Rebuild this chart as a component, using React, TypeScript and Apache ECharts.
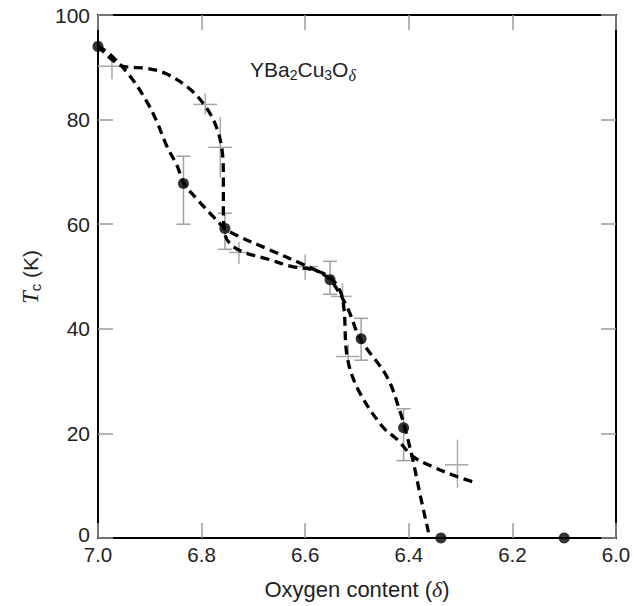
import React, { useEffect, useRef } from "react";
import * as echarts from "echarts";

// Black dots (measured Tc)
const dotX = [7.0, 6.835, 6.755, 6.552, 6.492, 6.41, 6.338, 6.1];
const dotY = [94, 67.8, 59.2, 49.4, 38.1, 21.1, 0, 0];

// Error bars on black dots
const barX = [6.835, 6.755, 6.552, 6.492, 6.41];
const barLow = [60, 55.2, 46.6, 34, 14.8];
const barHigh = [73, 62.1, 52.9, 42, 24.7];

// Gray crosses
const crossX = [6.973, 6.793, 6.764, 6.728, 6.6, 6.528, 6.517, 6.306];
const crossY = [90.2, 82.9, 74.7, 54.6, 51.9, 46.2, 34.7, 14.0];
const crossXLow = [7.0, 6.816, 6.787, 6.747, 6.625, 6.55, 6.54, 6.33];
const crossXHigh = [6.947, 6.77, 6.741, 6.709, 6.575, 6.51, 6.495, 6.285];
const crossYLow = [87.7, 81, 69, 52.4, 49.4, 44, 32.5, 9.6];
const crossYHigh = [91.9, 85, 80.5, 56.6, 54.2, 48.7, 37, 18.8];

// Dashed curve A (sharp step, through crosses)
const curveAX = [7.0, 6.952, 6.905, 6.867, 6.822, 6.789, 6.77, 6.76, 6.758, 6.758, 6.755, 6.731, 6.671, 6.625, 6.585, 6.552, 6.532, 6.525, 6.519, 6.498, 6.451, 6.422, 6.391, 6.353, 6.306, 6.275];
const curveAY = [94.1, 90.2, 89.8, 88.7, 85.8, 82.0, 78.2, 73.8, 68.6, 62.3, 58.0, 55.2, 53.3, 51.9, 51.3, 49.8, 47.1, 43.7, 34.7, 28.4, 21.3, 18.8, 15.5, 13.6, 11.7, 10.7];

// Dashed curve B (smooth, through dots)
const curveBX = [7.0, 6.977, 6.938, 6.905, 6.886, 6.867, 6.847, 6.834, 6.809, 6.778, 6.755, 6.735, 6.671, 6.604, 6.565, 6.546, 6.517, 6.494, 6.442, 6.416, 6.405, 6.391, 6.378, 6.362];
const curveBY = [94.1, 92.5, 88.3, 83.3, 79.5, 74.9, 71.1, 67.8, 64.8, 61.5, 59.2, 58.0, 55.2, 52.3, 50.4, 48.7, 43.7, 38.1, 30.8, 23.9, 20.1, 14.4, 8.2, 1.1];

const FONT = "Liberation Sans, Arial, Helvetica, sans-serif";
const SERIF = "Liberation Serif, DejaVu Serif, serif";

export default function App() {
  const ref = useRef<HTMLDivElement>(null);
  useEffect(() => {
    if (!ref.current) return;
    const chart = echarts.init(ref.current, undefined, { renderer: "svg" });

    const zip = (xs: number[], ys: number[]) => xs.map((x, i) => [x, ys[i]]);

    const tickStyle = { inside: true, length: 15, lineStyle: { color: "#9a9a9a", width: 1.5 } };
    const lineStyle = { show: true, onZero: false, lineStyle: { color: "#000", width: 2 } };

    const option: any = {
      animation: false,
      backgroundColor: "#fff",
      grid: { left: 98, right: 18, top: 15, bottom: 68 },
      xAxis: [
        {
          type: "value",
          min: 6,
          max: 7,
          interval: 0.2,
          inverse: true,
          position: "bottom",
          axisLine: lineStyle,
          axisTick: tickStyle,
          splitLine: { show: false },
          axisLabel: {
            fontSize: 20.5,
            fontFamily: FONT,
            color: "#222",
            margin: 10,
            lineHeight: 13,
            formatter: (v: number) => v.toFixed(1),
          },
          name: "{a|Oxygen content (}{i|δ}{a|)}",
          nameLocation: "middle",
          nameGap: 40,
          nameTextStyle: {
            rich: {
              a: { fontSize: 22, fontFamily: FONT, color: "#222" },
              i: { fontSize: 22, fontFamily: SERIF, fontStyle: "italic", color: "#222" },
            },
          },
        },
        {
          type: "value",
          min: 6,
          max: 7,
          interval: 0.2,
          inverse: true,
          position: "top",
          axisLine: lineStyle,
          axisTick: tickStyle,
          axisLabel: { show: false },
          splitLine: { show: false },
        },
      ],
      yAxis: [
        {
          type: "value",
          min: 0,
          max: 100,
          interval: 20,
          position: "left",
          axisLine: lineStyle,
          axisTick: tickStyle,
          splitLine: { show: false },
          axisLabel: {
            fontSize: 21,
            fontFamily: FONT,
            color: "#222",
            margin: 8,
            lineHeight: 12,
            formatter: (v: number) => (v === 0 ? "{z|0}" : String(v)),
            rich: {
              z: { fontSize: 21, fontFamily: FONT, color: "#222", lineHeight: 12, padding: [0, 0, 8, 0] },
            },
          },
        },
        {
          type: "value",
          min: 0,
          max: 100,
          interval: 20,
          position: "right",
          axisLine: lineStyle,
          axisTick: tickStyle,
          axisLabel: { show: false },
          splitLine: { show: false },
        },
      ],
      graphic: [
        {
          type: "text",
          x: 30,
          y: 277,
          rotation: Math.PI / 2,
          style: {
            text: "{t|T}{s|c}{a| (K)}",
            align: "center",
            verticalAlign: "middle",
            rich: {
              t: { fontSize: 23, fontFamily: SERIF, fontStyle: "italic", fill: "#222" },
              s: { fontSize: 15, fontFamily: FONT, fill: "#222", padding: [11, 0, 0, 0] },
              a: { fontSize: 21, fontFamily: FONT, fill: "#222" },
            },
          },
        },
        {
          type: "text",
          left: 250,
          top: 59,
          style: {
            text: "{a|YBa}{s|2}{a|Cu}{s|3}{a|O}{d|δ}",
            rich: {
              a: { fontSize: 21, fontFamily: FONT, fill: "#222" },
              s: { fontSize: 14, fontFamily: FONT, fill: "#222", padding: [11, 0, 0, 0] },
              d: { fontSize: 16, fontFamily: SERIF, fontStyle: "italic", fill: "#222", padding: [11, 0, 0, 0] },
            },
          },
        },
      ],
      series: [
        {
          type: "custom",
          name: "crosses",
          xAxisIndex: 0,
          yAxisIndex: 0,
          data: crossX.map((x, i) => [x, crossY[i], crossXLow[i], crossXHigh[i], crossYLow[i], crossYHigh[i]]),
          renderItem: (params: any, api: any) => {
            const x = api.value(0);
            const y = api.value(1);
            const h1 = api.coord([api.value(2), y]);
            const h2 = api.coord([api.value(3), y]);
            const v1 = api.coord([x, api.value(4)]);
            const v2 = api.coord([x, api.value(5)]);
            const st = { stroke: "#a8a8a8", lineWidth: 1.5 };
            return {
              type: "group",
              children: [
                { type: "line", shape: { x1: h1[0], y1: h1[1], x2: h2[0], y2: h2[1] }, style: st },
                { type: "line", shape: { x1: v1[0], y1: v1[1], x2: v2[0], y2: v2[1] }, style: st },
              ],
            };
          },
          z: 1,
        },
        {
          type: "custom",
          name: "errorbars",
          xAxisIndex: 0,
          yAxisIndex: 0,
          data: barX.map((x, i) => [x, barLow[i], barHigh[i]]),
          renderItem: (params: any, api: any) => {
            const x = api.value(0);
            const lo = api.coord([x, api.value(1)]);
            const hi = api.coord([x, api.value(2)]);
            const w = 7;
            const st = { stroke: "#a0a0a0", lineWidth: 1.5 };
            return {
              type: "group",
              children: [
                { type: "line", shape: { x1: lo[0], y1: lo[1], x2: hi[0], y2: hi[1] }, style: st },
                { type: "line", shape: { x1: lo[0] - w, y1: lo[1], x2: lo[0] + w, y2: lo[1] }, style: st },
                { type: "line", shape: { x1: hi[0] - w, y1: hi[1], x2: hi[0] + w, y2: hi[1] }, style: st },
              ],
            };
          },
          z: 1,
        },
        {
          type: "line",
          name: "A",
          data: zip(curveAX, curveAY),
          smooth: 0.35,
          showSymbol: false,
          symbol: "none",
          lineStyle: { color: "#000", width: 3.3, type: [9, 5.5] },
          z: 3,
        },
        {
          type: "line",
          name: "B",
          data: zip(curveBX, curveBY),
          smooth: 0.35,
          showSymbol: false,
          symbol: "none",
          lineStyle: { color: "#000", width: 3.3, type: [9, 5.5] },
          z: 3,
        },
        {
          type: "scatter",
          name: "dots",
          data: zip(dotX, dotY),
          symbol: "circle",
          symbolSize: 11,
          itemStyle: { color: "#000" },
          clip: false,
          z: 4,
        },
      ],
    };
    chart.setOption(option);
    return () => chart.dispose();
  }, []);
  return <div ref={ref} style={{ width: 634, height: 606, position: "absolute", left: 0, top: 0 }} />;
}
